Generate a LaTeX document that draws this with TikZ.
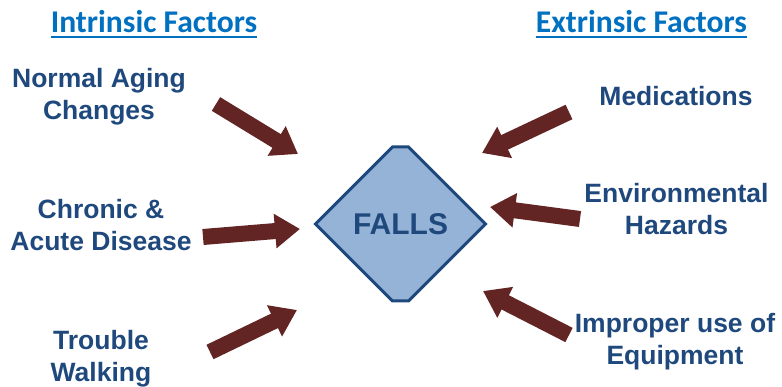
\documentclass[tikz,border=0pt]{standalone}
\usepackage{fontspec}
\setmainfont{Liberation Sans}
\newfontfamily\headfont{Carlito}
\usetikzlibrary{arrows.meta}
\tikzset{>=latex}
\definecolor{arrowred}{HTML}{632523}
\definecolor{fallsfill}{HTML}{95B3D7}
\definecolor{labelblue}{HTML}{1F497D}
\definecolor{headblue}{HTML}{0070C0}
\tikzstyle{factor}=[labelblue,font=\bfseries\fontsize{26.5}{32}\selectfont,align=center,inner sep=0]
\tikzstyle{heading}=[headblue,font=\headfont\bfseries\fontsize{31.6}{36}\selectfont,inner sep=0,anchor=base]
\tikzstyle{push}=[arrowred,line width=16pt,-{Triangle[length=25pt,width=33pt]}]

\begin{document}
\begin{tikzpicture}[x=1pt,y=-1pt]
  \useasboundingbox (0,0) rectangle (782,387);
  \def\cx{400.5}
  \def\cy{224}
  \def\h{77}
  \def\c{8}

  % HEADINGS
  \node[heading] (intr) at (154,33) {Intrinsic Factors};
  \node[heading] (extr) at (641.5,33) {Extrinsic Factors};
  \draw[headblue,line width=2pt] ([yshift=-4.5pt]intr.base west) -- ([yshift=-4.5pt]intr.base east);
  \draw[headblue,line width=2pt] ([yshift=-4.5pt]extr.base west) -- ([yshift=-4.5pt]extr.base east);

  % FALLS
  \draw[labelblue,line width=3pt,fill=fallsfill,line join=miter]
    (\cx-\c,\cy-\h) -- (\cx+\c,\cy-\h) -- (\cx+\h+\c,\cy)
    -- (\cx+\c,\cy+\h) -- (\cx-\c,\cy+\h) -- (\cx-\h-\c,\cy) -- cycle;
  \node[labelblue,font=\bfseries\fontsize{30}{36}\selectfont] (falls) at (\cx,\cy) {FALLS};

  % FACTORS
  \node[factor] (aging) at (99,97) {Normal Aging\\Changes};
  \node[factor] (disease) at (101,225) {Chronic \&\\Acute Disease};
  \node[factor] (walking) at (101,359) {Trouble\\Walking};
  \node[factor] (meds) at (676,96.5) {Medications};
  \node[factor] (hazards) at (676.5,209) {Environmental\\Hazards};
  \node[factor] (equip) at (675,342) {Improper use of\\Equipment};

  % ARROWS
  \coordinate (aging-t) at (216,104);   \coordinate (aging-h) at (298,154);
  \coordinate (disease-t) at (203,237); \coordinate (disease-h) at (300,229);
  \coordinate (walking-t) at (210,352); \coordinate (walking-h) at (297,310);
  \coordinate (meds-t) at (569,112);    \coordinate (meds-h) at (482,153);
  \coordinate (hazards-t) at (580,219); \coordinate (hazards-h) at (490,207);
  \coordinate (equip-t) at (569,335);   \coordinate (equip-h) at (483,291);
  \foreach \f in {aging,disease,walking,meds,hazards,equip}{
    \draw[push] (\f-t) -- (\f-h);
  }
\end{tikzpicture}
\end{document}
